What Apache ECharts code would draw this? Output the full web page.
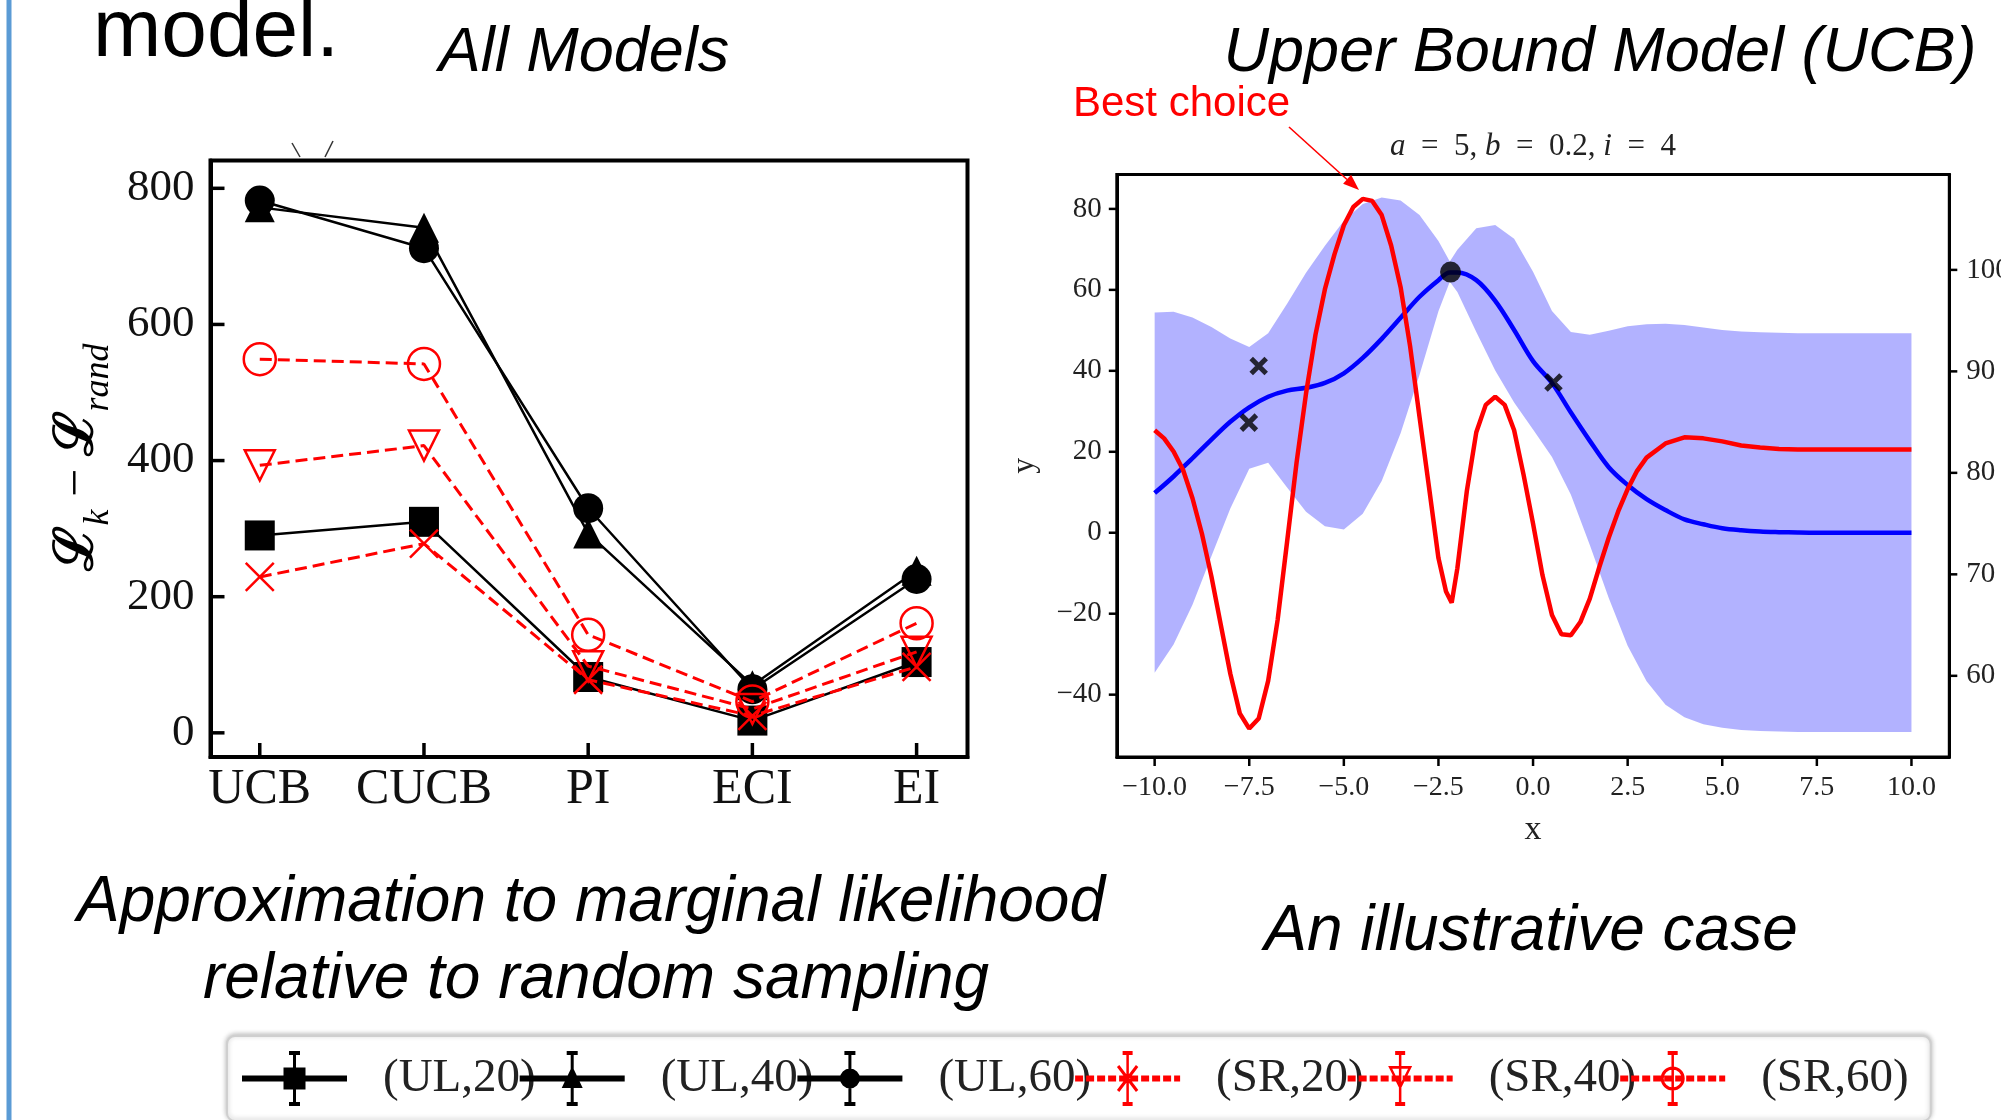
<!DOCTYPE html>
<html><head><meta charset="utf-8">
<script src="https://cdn.jsdelivr.net/npm/echarts@6/dist/echarts.min.js"></script>
<style>html,body{margin:0;padding:0;background:#fff;}#c{width:2001px;height:1120px;}</style>
</head><body><div id="c"></div>
<script>
// ---------- Left chart data ----------
const categories = ['UCB', 'CUCB', 'PI', 'ECI', 'EI'];
const seriesNames = ['(UL,20)', '(UL,40)', '(UL,60)', '(SR,20)', '(SR,40)', '(SR,60)'];
const ul20 = [290, 310, 82, 18, 104];
const ul40 = [772, 742, 293, 70, 238];
const ul60 = [782, 712, 330, 64, 226];
const sr20 = [229, 278, 78, 25, 97];
const sr40 = [393, 422, 98, 35, 119];
const sr60 = [549, 542, 144, 46, 161];
const leftYTicks = [0, 200, 400, 600, 800];

// ---------- Right chart data ----------
const bandX = [-10, -9.5, -9, -8.5, -8, -7.5, -7, -6.5, -6, -5.5, -5, -4.5, -4, -3.5, -3, -2.5, -2.2, -2, -1.5, -1, -0.5, 0, 0.5, 1, 1.5, 2, 2.5, 3, 3.5, 4, 4.5, 5, 5.5, 6, 6.5, 7, 7.5, 8, 8.5, 9, 9.5, 10];
const bandMean = [9.8, 13.9, 18.4, 23.0, 27.4, 31.0, 33.6, 35.1, 35.8, 37.0, 39.4, 43.2, 47.9, 53.1, 58.3, 62.4, 64.3, 64.3, 62.4, 57.3, 50.1, 42.4, 37.0, 29.7, 22.7, 16.2, 11.8, 8.3, 5.6, 3.3, 2.1, 1.1, 0.6, 0.3, 0.15, 0.05, 0, 0, 0, 0, 0, 0];
const bandUpper = [54.4, 54.6, 53.2, 50.8, 48.0, 45.9, 49.3, 56.6, 64.2, 70.9, 77.1, 81.2, 82.8, 82.1, 78.5, 72.1, 67.0, 69.9, 75.2, 76.0, 72.6, 64.5, 54.8, 49.6, 48.9, 49.9, 51.0, 51.5, 51.6, 51.3, 50.7, 50.1, 49.7, 49.5, 49.4, 49.3, 49.3, 49.3, 49.3, 49.3, 49.3, 49.3];
const bandLower = [-34.6, -27.6, -17.8, -5.8, 6.0, 15.8, 17.3, 11.2, 5.2, 1.6, 0.8, 4.7, 12.8, 24.6, 39.0, 54.7, 62.0, 59.5, 49.6, 40.1, 32.2, 25.5, 18.7, 9.4, -3.0, -16.1, -27.9, -36.7, -42.5, -45.6, -47.3, -48.2, -48.7, -49.0, -49.1, -49.2, -49.2, -49.2, -49.2, -49.2, -49.2, -49.2];
const redX = [-10, -9.75, -9.5, -9.25, -9, -8.75, -8.5, -8.25, -8, -7.75, -7.5, -7.25, -7, -6.75, -6.5, -6.25, -6, -5.75, -5.5, -5.25, -5, -4.75, -4.5, -4.25, -4, -3.75, -3.5, -3.25, -3, -2.75, -2.5, -2.3, -2.15, -2, -1.75, -1.5, -1.25, -1, -0.75, -0.5, -0.25, 0, 0.25, 0.5, 0.75, 1, 1.25, 1.5, 1.75, 2, 2.25, 2.5, 2.75, 3, 3.5, 4, 4.5, 5, 5.5, 6, 6.5, 7, 8, 9, 10];
const redR = [84.2, 83.4, 82.1, 80.3, 77.5, 74.0, 69.8, 65.0, 60.2, 56.3, 54.8, 55.8, 59.5, 65.5, 73.2, 81.0, 87.8, 93.6, 98.1, 101.5, 104.4, 106.2, 107.0, 106.8, 105.4, 102.4, 98.3, 92.5, 85.5, 78.6, 71.6, 68.3, 67.2, 70.6, 78.2, 84.0, 86.7, 87.5, 86.7, 84.2, 79.8, 75.0, 69.9, 66.0, 64.1, 64.0, 65.3, 67.6, 70.7, 73.6, 76.2, 78.4, 80.2, 81.5, 82.9, 83.5, 83.4, 83.1, 82.7, 82.5, 82.35, 82.3, 82.3, 82.3, 82.3];
const obsX = [-7.51, -7.25, 0.54];
const obsY = [27.2, 41.2, 37.1];
const bestX = [-2.18];
const bestY = [64.4];
const rightXTicks = [-10, -7.5, -5, -2.5, 0, 2.5, 5, 7.5, 10];
const rightYTicks = [-40, -20, 0, 20, 40, 60, 80];
const rightY2Ticks = [60, 70, 80, 90, 100];

// ---------- legend icon geometry ----------
function R(x0, y0, x1, y1) { return 'M' + x0 + ' ' + y0 + 'L' + x1 + ' ' + y0 + 'L' + x1 + ' ' + y1 + 'L' + x0 + ' ' + y1 + 'Z'; }
function poly(pts, cw) {
  let a = 0;
  for (let i = 0; i < pts.length; i++) { const p = pts[i], q = pts[(i + 1) % pts.length]; a += p[0] * q[1] - q[0] * p[1]; }
  if ((a > 0) !== cw) pts = pts.slice().reverse();
  return 'M' + pts.map(p => p[0].toFixed(2) + ' ' + p[1].toFixed(2)).join('L') + 'Z';
}
function seg(x0, y0, x1, y1, w) {
  const dx = x1 - x0, dy = y1 - y0, l = Math.hypot(dx, dy), nx = -dy / l * w / 2, ny = dx / l * w / 2;
  return poly([[x0 + nx, y0 + ny], [x1 + nx, y1 + ny], [x1 - nx, y1 - ny], [x0 - nx, y0 - ny]], true);
}
function circ(cx, cy, r, cw) {
  const s = cw ? 1 : 0;
  return 'M' + (cx - r) + ' ' + cy + 'A' + r + ' ' + r + ' 0 1 ' + s + ' ' + (cx + r) + ' ' + cy + 'A' + r + ' ' + r + ' 0 1 ' + s + ' ' + (cx - r) + ' ' + cy + 'Z';
}
const blackBase = R(0, 24.5, 105, 30.5) + R(51, 0, 54, 55) + R(47, 0, 58, 4) + R(47, 51, 58, 55);
let redBase = '';
for (let x = 0; x < 105; x += 11) redBase += R(x, 24.5, Math.min(x + 8, 105), 30.5);
redBase += R(51.25, 0, 53.75, 55) + R(47.5, 0, 57.5, 4) + R(47.5, 51, 57.5, 55);
const legendIcons = [
  blackBase + R(41.5, 16.5, 63.5, 38.5),
  blackBase + poly([[52.5, 15], [63, 37], [42, 37]], true),
  blackBase + circ(52.5, 27.5, 10, true),
  redBase + seg(43, 15, 62, 40, 3) + seg(62, 15, 43, 40, 3),
  redBase + poly([[40.5, 15], [64.5, 15], [52.5, 39]], true) + poly([[44.58, 17.72], [60.42, 17.72], [52.5, 33.56]], false),
  redBase + circ(52.5, 27.5, 12, true) + circ(52.5, 27.5, 9, false)
].map(d => 'path://' + d);

// ---------- build ----------
const pairs = arr => arr.map((v, i) => [i, v]);
const catIdx = categories.map((c, i) => i);
const minus = s => String(s).replace('-', '\u2212');
const XPATH = 'path://M0 0L10 10M10 0L0 10';

function blackSeries(name, data, symbol) {
  return { name, type: 'line', xAxisIndex: 0, yAxisIndex: 0, data: pairs(data), symbol, symbolSize: 30,
    itemStyle: { color: '#000' }, lineStyle: { color: '#000', width: 2.5 }, emphasis: { disabled: true }, z: 3 };
}
function redSeries(name, data, symbol, size, rot) {
  return { name, type: 'line', xAxisIndex: 0, yAxisIndex: 0, data: pairs(data), symbol, symbolSize: size, symbolRotate: rot || 0,
    itemStyle: { color: 'rgba(0,0,0,0)', borderColor: '#ff0000', borderWidth: 2.5 },
    lineStyle: { color: '#ff0000', width: 3, type: [12, 6] }, emphasis: { disabled: true }, z: 4 };
}
// tick marks drawn through the axes' own scales (side: which edge of the grid, len: signed length inward(+)/outward(-))
function tickSeries(xi, yi, values, side, len, width) {
  const isX = side === 'bottom';
  return {
    type: 'custom', xAxisIndex: xi, yAxisIndex: yi, silent: true, clip: false, z: 10,
    data: values.map(v => isX ? [v, 0] : [0, v]),
    renderItem: function (params, api) {
      const cs = params.coordSys;
      const p = api.coord([api.value(0), api.value(1)]);
      let shape;
      if (side === 'bottom') { const y0 = cs.y + cs.height; shape = { x1: p[0], y1: y0, x2: p[0], y2: y0 - len }; }
      else if (side === 'left') { shape = { x1: cs.x, y1: p[1], x2: cs.x + len, y2: p[1] }; }
      else { const x0 = cs.x + cs.width; shape = { x1: x0, y1: p[1], x2: x0 - len, y2: p[1] }; }
      return { type: 'line', shape: shape, style: { stroke: '#000', lineWidth: width } };
    }
  };
}

const serif = 'Liberation Serif';
const sans = 'Liberation Sans';
const axLine = w => ({ show: true, onZero: false, lineStyle: { color: '#000', width: w } });
const en = '\u2002';

const option = {
  animation: false,
  backgroundColor: '#ffffff',
  textStyle: { fontFamily: serif },
  grid: [
    { left: 210.5, top: 160.4, width: 757, height: 596.6, show: true, borderColor: '#000', borderWidth: 4, backgroundColor: 'rgba(0,0,0,0)', containLabel: false, outerBoundsMode: 'none' },
    { left: 1116.8, top: 174.5, width: 832.5, height: 582.5, show: true, borderColor: '#000', borderWidth: 3, backgroundColor: 'rgba(0,0,0,0)', containLabel: false, outerBoundsMode: 'none' }
  ],
  xAxis: [
    { gridIndex: 0, type: 'value', min: -0.3, max: 4.31, splitLine: { show: false }, axisLine: axLine(4),
      axisTick: { show: false, customValues: catIdx },
      axisLabel: { show: true, customValues: catIdx, formatter: v => categories[Math.round(v)], fontFamily: serif, fontSize: 50, color: '#111', margin: 8 } },
    { gridIndex: 1, type: 'value', min: -11, max: 11, splitLine: { show: false }, axisLine: axLine(3),
      axisTick: { show: false, customValues: rightXTicks },
      axisLabel: { show: true, customValues: rightXTicks, formatter: v => minus(v.toFixed(1)), fontFamily: serif, fontSize: 28, color: '#222', margin: 17 },
      name: 'x', nameLocation: 'middle', nameGap: 56, nameTextStyle: { fontFamily: serif, fontSize: 34, color: '#222' } }
  ],
  yAxis: [
    { gridIndex: 0, type: 'value', min: -35.5, max: 841, splitLine: { show: false }, axisLine: axLine(4),
      axisTick: { show: false, customValues: leftYTicks },
      axisLabel: { show: true, customValues: leftYTicks, fontFamily: serif, fontSize: 45, color: '#111', margin: 16 } },
    { gridIndex: 1, type: 'value', position: 'left', min: -55.4, max: 88.5, splitLine: { show: false }, axisLine: axLine(3),
      axisTick: { show: false, customValues: rightYTicks },
      axisLabel: { show: true, customValues: rightYTicks, formatter: v => minus(v), fontFamily: serif, fontSize: 29, color: '#222', margin: 15 },
      name: 'y', nameLocation: 'middle', nameGap: 76, nameTextStyle: { fontFamily: serif, fontSize: 32, color: '#222' } },
    { gridIndex: 1, type: 'value', position: 'right', min: 52.0, max: 109.4, splitLine: { show: false }, axisLine: axLine(3),
      axisTick: { show: false, customValues: rightY2Ticks },
      axisLabel: { show: true, customValues: rightY2Ticks, fontFamily: serif, fontSize: 29, color: '#222', margin: 17 } }
  ],
  legend: {
    left: 227, top: 1036, orient: 'horizontal', padding: [15, 22, 15, 15],
    itemWidth: 105, itemHeight: 55, itemGap: -16, symbolRotate: 0,
    borderColor: '#cfcfcf', borderWidth: 2, borderRadius: 8, backgroundColor: '#fff',
    shadowBlur: 5, shadowColor: 'rgba(0,0,0,0.25)', shadowOffsetY: -1,
    selectedMode: false,
    textStyle: { fontFamily: serif, fontSize: 47, color: '#222', padding: [0, 0, 0, 31] },
    data: seriesNames.map((n, i) => ({ name: n, icon: legendIcons[i], symbolRotate: 0,
      itemStyle: { color: i < 3 ? '#000' : '#ff0000', borderWidth: 0, opacity: 1 } }))
  },
  series: [
    blackSeries(seriesNames[0], ul20, 'rect'),
    blackSeries(seriesNames[1], ul40, 'triangle'),
    blackSeries(seriesNames[2], ul60, 'circle'),
    redSeries(seriesNames[3], sr20, XPATH, 28),
    redSeries(seriesNames[4], sr40, 'triangle', 30, 180),
    redSeries(seriesNames[5], sr60, 'circle', 32),
    {
      name: 'band', type: 'custom', xAxisIndex: 1, yAxisIndex: 1, silent: true, z: 1,
      data: bandX.map((x, i) => [x, bandLower[i], bandUpper[i]]),
      encode: { x: 0, y: [1, 2] },
      renderItem: function (params, api) {
        if (params.dataIndexInside !== 0) return null;
        const n = params.dataInsideLength;
        const pts = [];
        for (let j = 0; j < n; j++) pts.push(api.coord([api.value(0, j), api.value(2, j)]));
        for (let j = n - 1; j >= 0; j--) pts.push(api.coord([api.value(0, j), api.value(1, j)]));
        return { type: 'polygon', shape: { points: pts }, style: { fill: 'rgba(0,0,255,0.3)', stroke: null } };
      }
    },
    { name: 'mean', type: 'line', xAxisIndex: 1, yAxisIndex: 1, data: bandX.map((x, i) => [x, bandMean[i]]),
      smooth: 0.35, symbol: 'none', lineStyle: { color: '#0000ff', width: 4.5 }, emphasis: { disabled: true }, z: 2 },
    { name: 'acquisition', type: 'line', xAxisIndex: 1, yAxisIndex: 2, data: redX.map((x, i) => [x, redR[i]]),
      symbol: 'none', lineStyle: { color: '#ff0000', width: 4.5 }, emphasis: { disabled: true }, z: 3 },
    { name: 'observations', type: 'scatter', xAxisIndex: 1, yAxisIndex: 1, data: obsX.map((x, i) => [x, obsY[i]]),
      symbol: XPATH, symbolSize: 15, itemStyle: { color: 'rgba(0,0,0,0)', borderColor: '#000', borderWidth: 5 }, emphasis: { disabled: true }, z: 5 },
    { name: 'best', type: 'scatter', xAxisIndex: 1, yAxisIndex: 1, data: bestX.map((x, i) => [x, bestY[i]]),
      symbol: 'circle', symbolSize: 21, itemStyle: { color: '#000' }, emphasis: { disabled: true }, z: 6 },
    tickSeries(0, 0, leftYTicks, 'left', 14, 3.5),
    tickSeries(0, 0, catIdx, 'bottom', 14, 3.5),
    tickSeries(1, 1, rightXTicks, 'bottom', -9, 2.5),
    tickSeries(1, 1, rightYTicks, 'left', -8, 2.5),
    tickSeries(1, 2, rightY2Ticks, 'right', -8, 2.5)
  ],
  graphic: [
    { type: 'rect', shape: { x: 6.5, y: 0, width: 5, height: 1120 }, style: { fill: '#5b9bd5' }, silent: true },
    { type: 'text', x: 93, y: 33, style: { text: 'model.', fontFamily: sans, fontSize: 82, fill: '#000', align: 'left', verticalAlign: 'middle' } },
    { type: 'text', x: 584, y: 53.5, style: { text: 'All Models', fontFamily: sans, fontStyle: 'italic', fontSize: 63, fill: '#000', align: 'center', verticalAlign: 'middle' } },
    { type: 'text', x: 1600, y: 53.5, style: { text: 'Upper Bound Model (UCB)', fontFamily: sans, fontStyle: 'italic', fontSize: 63, fill: '#000', align: 'center', verticalAlign: 'middle' } },
    { type: 'text', x: 1073, y: 104, style: { text: 'Best choice', fontFamily: sans, fontSize: 42, fill: '#ff0000', align: 'left', verticalAlign: 'middle' } },
    { type: 'line', shape: { x1: 1289, y1: 127, x2: 1347, y2: 179.5 }, style: { stroke: '#ff0000', lineWidth: 1.6 } },
    { type: 'polygon', shape: { points: [[1359, 190], [1343.1, 183.8], [1351.1, 174.8]] }, style: { fill: '#ff0000' } },
    { type: 'text', x: 1533, y: 147, style: { text: '{i|a}' + en + '=' + en + '5, {i|b}' + en + '=' + en + '0.2, {i|i}' + en + '=' + en + '4', fontFamily: serif, fontSize: 31, fill: '#222', align: 'center', verticalAlign: 'middle',
      rich: { i: { fontFamily: serif, fontStyle: 'italic', fontSize: 31, fill: '#222' } } } },
    { type: 'line', shape: { x1: 292, y1: 143, x2: 300, y2: 157 }, style: { stroke: '#333', lineWidth: 1.5 } },
    { type: 'line', shape: { x1: 333, y1: 141, x2: 325, y2: 157 }, style: { stroke: '#333', lineWidth: 1.5 } },
    { type: 'text', x: 84, y: 457, rotation: Math.PI / 2,
      style: { text: '{L|\u2112}{s|k}{m| \u2212 }{L|\u2112}{s|rand}', align: 'center', verticalAlign: 'middle',
        rich: {
          L: { fontFamily: 'DejaVu Serif', fontWeight: 'bold', fontSize: 54, fill: '#000', padding: [0, 0, 12, 0] },
          s: { fontFamily: serif, fontStyle: 'italic', fontSize: 36, fill: '#000', verticalAlign: 'bottom' },
          m: { fontFamily: serif, fontSize: 50, fill: '#000', padding: [0, 0, 12, 0] }
        } } },
    { type: 'text', x: 591, y: 903, style: { text: 'Approximation to marginal likelihood', fontFamily: sans, fontStyle: 'italic', fontSize: 64, fill: '#000', align: 'center', verticalAlign: 'middle' } },
    { type: 'text', x: 596, y: 980, style: { text: 'relative to random sampling', fontFamily: sans, fontStyle: 'italic', fontSize: 64, fill: '#000', align: 'center', verticalAlign: 'middle' } },
    { type: 'text', x: 1531, y: 932, style: { text: 'An illustrative case', fontFamily: sans, fontStyle: 'italic', fontSize: 64, fill: '#000', align: 'center', verticalAlign: 'middle' } }
  ]
};

const chart = echarts.init(document.getElementById('c'), null, { renderer: 'canvas', width: 2001, height: 1120 });
chart.setOption(option);
</script>
</body></html>
